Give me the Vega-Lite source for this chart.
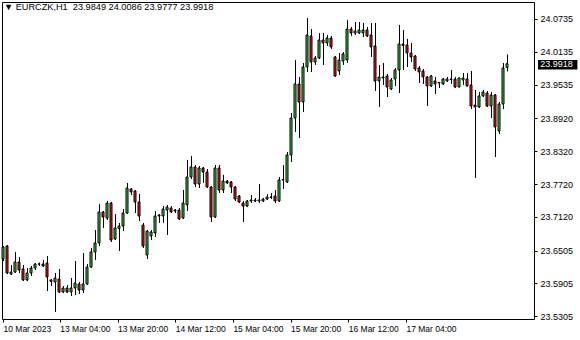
{
 "$schema": "https://vega.github.io/schema/vega-lite/v6.json",
 "width": 532, "height": 317,
 "autosize": {"type": "none"},
 "padding": {"left": 2, "top": 2, "right": 46, "bottom": 21},
 "background": "white",
 "view": {"stroke": "black", "strokeWidth": 1, "strokeOpacity": 1, "fill": "white"},
 "config": {
   "view": {"stroke": "black", "strokeWidth": 1},
   "font": "Liberation Sans",
   "scale": {"continuousPadding": 0},
   "axis": {"labelOverlap": false, "labelFlush": false, "domain": false, "grid": false, "tickColor": "black", "labelColor": "black", "labelFont": "Liberation Sans", "tickSize": 3, "title": null},
   "axisY": {"labelOverlap": false, "labelFontSize": 9, "labelPadding": 3},
   "axisX": {"labelOverlap": false, "labelFontSize": 8.5, "labelPadding": 2, "labelAlign": "left", "labelBaseline": "top"}
 },
 "title": {"text": "▼ EURCZK,H1\u00a0\u00a023.9849 24.0086 23.9777 23.9918", "anchor": "start", "frame": "group", "orient": "top", "offset": -10, "dx": 2, "fontSize": 9.2, "fontWeight": "normal", "font": "Liberation Sans", "color": "black"},
 "data": {"values": [
{"i":0,"o":23.6351,"h":23.6589,"l":23.6315,"c":23.6571},
{"i":1,"o":23.6589,"h":23.6607,"l":23.6077,"c":23.6096},
{"i":2,"o":23.6077,"h":23.6242,"l":23.6059,"c":23.6114},
{"i":3,"o":23.6114,"h":23.6479,"l":23.6096,"c":23.6297},
{"i":4,"o":23.6297,"h":23.6388,"l":23.6096,"c":23.6150},
{"i":5,"o":23.6169,"h":23.6242,"l":23.5950,"c":23.5968},
{"i":6,"o":23.5968,"h":23.6187,"l":23.5950,"c":23.6096},
{"i":7,"o":23.6096,"h":23.6224,"l":23.6041,"c":23.6187},
{"i":8,"o":23.6187,"h":23.6278,"l":23.6150,"c":23.6260},
{"i":9,"o":23.6258,"h":23.6287,"l":23.6224,"c":23.6262},
{"i":10,"o":23.6260,"h":23.6333,"l":23.6205,"c":23.6224},
{"i":11,"o":23.6278,"h":23.6406,"l":23.5767,"c":23.6023},
{"i":12,"o":23.5968,"h":23.5986,"l":23.5858,"c":23.5941},
{"i":13,"o":23.5931,"h":23.6096,"l":23.5383,"c":23.6004},
{"i":14,"o":23.5986,"h":23.6169,"l":23.5730,"c":23.5749},
{"i":15,"o":23.5749,"h":23.5858,"l":23.5730,"c":23.5822},
{"i":16,"o":23.5822,"h":23.5877,"l":23.5730,"c":23.5749},
{"i":17,"o":23.5749,"h":23.6004,"l":23.5676,"c":23.5822},
{"i":18,"o":23.5822,"h":23.6315,"l":23.5694,"c":23.5913},
{"i":19,"o":23.5895,"h":23.5931,"l":23.5712,"c":23.5785},
{"i":20,"o":23.5785,"h":23.6461,"l":23.5730,"c":23.5895},
{"i":21,"o":23.5895,"h":23.6260,"l":23.5877,"c":23.6205},
{"i":22,"o":23.6205,"h":23.6552,"l":23.6187,"c":23.6479},
{"i":23,"o":23.6479,"h":23.6881,"l":23.6333,"c":23.6644},
{"i":24,"o":23.6644,"h":23.7356,"l":23.6589,"c":23.7210},
{"i":25,"o":23.7210,"h":23.7228,"l":23.6918,"c":23.7119},
{"i":26,"o":23.7100,"h":23.7411,"l":23.7064,"c":23.7374},
{"i":27,"o":23.7374,"h":23.7393,"l":23.6662,"c":23.6698},
{"i":28,"o":23.6717,"h":23.7173,"l":23.6698,"c":23.6918},
{"i":29,"o":23.6909,"h":23.7009,"l":23.6498,"c":23.6954},
{"i":30,"o":23.6954,"h":23.7265,"l":23.6863,"c":23.7192},
{"i":31,"o":23.7192,"h":23.7740,"l":23.7173,"c":23.7648},
{"i":32,"o":23.7630,"h":23.7648,"l":23.7520,"c":23.7575},
{"i":33,"o":23.7593,"h":23.7612,"l":23.7192,"c":23.7393},
{"i":34,"o":23.7393,"h":23.7539,"l":23.7045,"c":23.7137},
{"i":35,"o":23.6972,"h":23.7009,"l":23.6552,"c":23.6589},
{"i":36,"o":23.6424,"h":23.6881,"l":23.6351,"c":23.6863},
{"i":37,"o":23.6772,"h":23.6881,"l":23.6698,"c":23.6845},
{"i":38,"o":23.6826,"h":23.7228,"l":23.6753,"c":23.7137},
{"i":39,"o":23.7137,"h":23.7173,"l":23.7009,"c":23.7155},
{"i":40,"o":23.7137,"h":23.7319,"l":23.7009,"c":23.7265},
{"i":41,"o":23.7246,"h":23.7338,"l":23.6790,"c":23.7301},
{"i":42,"o":23.7283,"h":23.7319,"l":23.7192,"c":23.7210},
{"i":43,"o":23.7228,"h":23.7265,"l":23.7192,"c":23.7246},
{"i":44,"o":23.7246,"h":23.7283,"l":23.7064,"c":23.7082},
{"i":45,"o":23.7100,"h":23.7612,"l":23.7082,"c":23.7374},
{"i":46,"o":23.7338,"h":23.8160,"l":23.7228,"c":23.7849},
{"i":47,"o":23.7849,"h":23.8233,"l":23.7813,"c":23.8032},
{"i":48,"o":23.8032,"h":23.8068,"l":23.7666,"c":23.7721},
{"i":49,"o":23.7721,"h":23.8050,"l":23.7648,"c":23.8014},
{"i":50,"o":23.8014,"h":23.8032,"l":23.7740,"c":23.7940},
{"i":51,"o":23.7940,"h":23.7995,"l":23.7648,"c":23.7666},
{"i":52,"o":23.7666,"h":23.7685,"l":23.7027,"c":23.7119},
{"i":53,"o":23.7119,"h":23.8068,"l":23.7100,"c":23.8014},
{"i":54,"o":23.8014,"h":23.8068,"l":23.7557,"c":23.7612},
{"i":55,"o":23.7612,"h":23.7886,"l":23.7557,"c":23.7776},
{"i":56,"o":23.7776,"h":23.7794,"l":23.7721,"c":23.7740},
{"i":57,"o":23.7758,"h":23.7776,"l":23.7557,"c":23.7666},
{"i":58,"o":23.7666,"h":23.7685,"l":23.7411,"c":23.7447},
{"i":59,"o":23.7502,"h":23.7520,"l":23.7374,"c":23.7393},
{"i":60,"o":23.7374,"h":23.7411,"l":23.7027,"c":23.7319},
{"i":61,"o":23.7319,"h":23.7429,"l":23.7301,"c":23.7411},
{"i":62,"o":23.7411,"h":23.7520,"l":23.7374,"c":23.7429},
{"i":63,"o":23.7429,"h":23.7466,"l":23.7393,"c":23.7411},
{"i":64,"o":23.7411,"h":23.7721,"l":23.7374,"c":23.7429},
{"i":65,"o":23.7411,"h":23.7466,"l":23.7393,"c":23.7447},
{"i":66,"o":23.7447,"h":23.7539,"l":23.7429,"c":23.7484},
{"i":67,"o":23.7475,"h":23.7557,"l":23.7447,"c":23.7484},
{"i":68,"o":23.7502,"h":23.7612,"l":23.7374,"c":23.7411},
{"i":69,"o":23.7411,"h":23.7849,"l":23.7393,"c":23.7794},
{"i":70,"o":23.7794,"h":23.8068,"l":23.7630,"c":23.7803},
{"i":71,"o":23.7758,"h":23.8306,"l":23.7740,"c":23.8251},
{"i":72,"o":23.8251,"h":23.9018,"l":23.8123,"c":23.8927},
{"i":73,"o":23.8927,"h":23.9986,"l":23.8671,"c":23.9548},
{"i":74,"o":23.9548,"h":23.9676,"l":23.8561,"c":23.9219},
{"i":75,"o":23.9219,"h":23.9931,"l":23.9036,"c":23.9858},
{"i":76,"o":23.9858,"h":24.0753,"l":23.9767,"c":24.0443},
{"i":77,"o":24.0425,"h":24.0552,"l":23.9767,"c":23.9950},
{"i":78,"o":23.9950,"h":24.0059,"l":23.9895,"c":24.0023},
{"i":79,"o":24.0023,"h":24.0479,"l":24.0004,"c":24.0351},
{"i":80,"o":24.0351,"h":24.0479,"l":23.9895,"c":24.0297},
{"i":81,"o":24.0297,"h":24.0443,"l":24.0242,"c":24.0388},
{"i":82,"o":24.0388,"h":24.0425,"l":24.0187,"c":24.0224},
{"i":83,"o":24.0041,"h":24.0059,"l":23.9676,"c":23.9694},
{"i":84,"o":23.9785,"h":24.0114,"l":23.9712,"c":23.9986},
{"i":85,"o":23.9968,"h":24.0132,"l":23.9895,"c":24.0096},
{"i":86,"o":23.9986,"h":24.0717,"l":23.9931,"c":24.0552},
{"i":87,"o":24.0552,"h":24.0589,"l":24.0425,"c":24.0479},
{"i":88,"o":24.0479,"h":24.0680,"l":24.0443,"c":24.0516},
{"i":89,"o":24.0479,"h":24.0680,"l":24.0461,"c":24.0534},
{"i":90,"o":24.0479,"h":24.0662,"l":24.0406,"c":24.0534},
{"i":91,"o":24.0534,"h":24.0589,"l":24.0406,"c":24.0425},
{"i":92,"o":24.0443,"h":24.0662,"l":24.0041,"c":24.0224},
{"i":93,"o":24.0242,"h":24.0662,"l":23.9420,"c":23.9603},
{"i":94,"o":23.9603,"h":23.9895,"l":23.9128,"c":23.9676},
{"i":95,"o":23.9657,"h":23.9931,"l":23.9530,"c":23.9676},
{"i":96,"o":23.9694,"h":23.9730,"l":23.9310,"c":23.9493},
{"i":97,"o":23.9456,"h":23.9657,"l":23.9438,"c":23.9621},
{"i":98,"o":23.9639,"h":23.9840,"l":23.9511,"c":23.9803},
{"i":99,"o":23.9803,"h":24.0625,"l":23.9383,"c":24.0278},
{"i":100,"o":24.0278,"h":24.0534,"l":23.9803,"c":24.0251},
{"i":101,"o":24.0260,"h":24.0370,"l":23.9858,"c":24.0114},
{"i":102,"o":24.0114,"h":24.0297,"l":23.9950,"c":24.0041},
{"i":103,"o":24.0059,"h":24.0077,"l":23.9785,"c":23.9822},
{"i":104,"o":23.9840,"h":23.9877,"l":23.9566,"c":23.9767},
{"i":105,"o":23.9785,"h":23.9822,"l":23.9548,"c":23.9676},
{"i":106,"o":23.9676,"h":23.9694,"l":23.9146,"c":23.9511},
{"i":107,"o":23.9511,"h":23.9712,"l":23.9493,"c":23.9694},
{"i":108,"o":23.9603,"h":23.9676,"l":23.9365,"c":23.9548},
{"i":109,"o":23.9575,"h":23.9584,"l":23.9475,"c":23.9566},
{"i":110,"o":23.9548,"h":23.9657,"l":23.9530,"c":23.9639},
{"i":111,"o":23.9603,"h":23.9676,"l":23.9584,"c":23.9639},
{"i":112,"o":23.9630,"h":23.9803,"l":23.9548,"c":23.9639},
{"i":113,"o":23.9639,"h":23.9676,"l":23.9475,"c":23.9493},
{"i":114,"o":23.9493,"h":23.9667,"l":23.9484,"c":23.9657},
{"i":115,"o":23.9621,"h":23.9749,"l":23.9530,"c":23.9657},
{"i":116,"o":23.9639,"h":23.9749,"l":23.9502,"c":23.9511},
{"i":117,"o":23.9530,"h":23.9785,"l":23.9091,"c":23.9146},
{"i":118,"o":23.9164,"h":23.9438,"l":23.7831,"c":23.9128},
{"i":119,"o":23.9128,"h":23.9402,"l":23.9109,"c":23.9329},
{"i":120,"o":23.9329,"h":23.9438,"l":23.9310,"c":23.9402},
{"i":121,"o":23.9383,"h":23.9420,"l":23.9128,"c":23.9146},
{"i":122,"o":23.9146,"h":23.9402,"l":23.8927,"c":23.9347},
{"i":123,"o":23.9347,"h":23.9365,"l":23.8214,"c":23.8762},
{"i":124,"o":23.8689,"h":23.9219,"l":23.8635,"c":23.9182},
{"i":125,"o":23.9182,"h":23.9931,"l":23.9091,"c":23.9840},
{"i":126,"o":23.9849,"h":24.0086,"l":23.9777,"c":23.9918}
 ]},
 "layer": [
  {"mark": {"type": "rule", "color": "black", "strokeWidth": 1, "xOffset": 0.5},
   "encoding": {
    "x": {"field": "i", "type": "quantitative",
      "scale": {"domain": [-0.25, 132.75], "nice": false, "zero": false, "padding": 0},
      "axis": {"values": [0, 14.2, 28.63, 43.05, 57.47, 71.89, 86.31, 100.73], "tickCount": 30,
        "labelExpr": "['10 Mar 2023','13 Mar 04:00','13 Mar 20:00','14 Mar 12:00','15 Mar 04:00','15 Mar 20:00','16 Mar 12:00','17 Mar 04:00'][indexof([0, 14.2, 28.63, 43.05, 57.47, 71.89, 86.31, 100.73], datum.value)]",
        "labelAlign": "left", "labelBaseline": "top", "labelOverlap": false, "labelFlush": false}},
    "y": {"field": "l", "type": "quantitative",
      "scale": {"domain": [23.5256, 24.1045], "nice": false, "zero": false, "padding": 0},
      "axis": {"orient": "right", "values": [24.0735, 24.0135, 23.9535, 23.892, 23.832, 23.772, 23.712, 23.6505, 23.5905, 23.5305], "tickCount": 30,
        "format": ".4f", "labelOverlap": false, "labelFlush": false}},
    "y2": {"field": "h"}}},
  {"mark": {"type": "bar", "width": 2, "stroke": "black", "strokeWidth": 1},
   "encoding": {
    "x": {"field": "i", "type": "quantitative"},
    "y": {"field": "o", "type": "quantitative"},
    "y2": {"field": "c"},
    "fill": {"condition": {"test": "datum.c >= datum.o", "value": "#3acc3a"}, "value": "#ec1c1c"}}},
  {"data": {"values": [{"p": 23.9918}]},
   "mark": {"type": "rect", "color": "black"},
   "encoding": {"x": {"datum": 133.75}, "x2": {"datum": 143.6}, "y": {"datum": 23.9988}, "y2": {"datum": 23.9814}}},
  {"data": {"values": [{"p": 23.9918}]},
   "mark": {"type": "text", "align": "left", "baseline": "middle", "color": "white", "fontSize": 9, "font": "Liberation Sans"},
   "encoding": {"x": {"datum": 134.3}, "y": {"field": "p", "type": "quantitative"}, "text": {"field": "p", "type": "quantitative", "format": ".4f"}}}
 ]
}
